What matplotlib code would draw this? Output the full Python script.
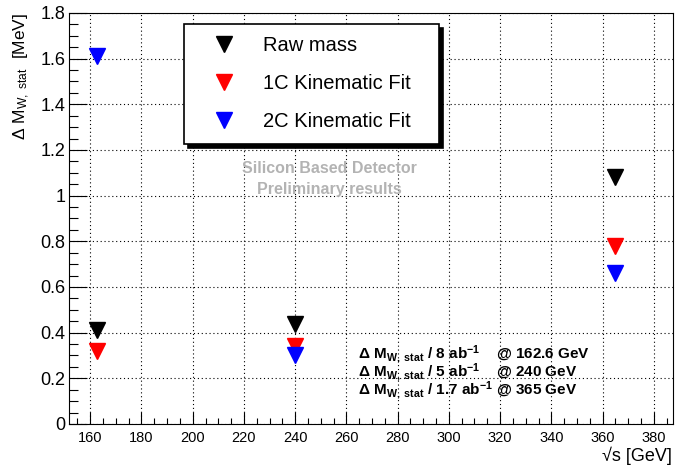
import matplotlib
matplotlib.use("Agg")
import matplotlib.pyplot as plt
from matplotlib.ticker import MultipleLocator

plt.rcParams['font.family'] = ['Liberation Sans', 'DejaVu Sans']
plt.rcParams['mathtext.fontset'] = 'custom'
plt.rcParams['mathtext.rm'] = 'Liberation Sans'
plt.rcParams['mathtext.it'] = 'Liberation Sans:italic'
plt.rcParams['mathtext.bf'] = 'Liberation Sans:bold'

# sqrt(s) [GeV]
energies = [162.6, 240, 365]
raw_mass = [0.41, 0.44, 1.08]
fit_1c = [0.32, 0.34, 0.78]
fit_2c = [1.61, 0.30, 0.66]

series = [
    ("Raw mass", raw_mass, "black"),
    ("1C Kinematic Fit", fit_1c, "red"),
    ("2C Kinematic Fit", fit_2c, "blue"),
]

lumi_lines = [
    r"Δ M$_{\mathbf{W,\ stat}}$ / 8 ab$^{\mathbf{-1}}$    @ 162.6 GeV",
    r"Δ M$_{\mathbf{W,\ stat}}$ / 5 ab$^{\mathbf{-1}}$    @ 240 GeV",
    r"Δ M$_{\mathbf{W,\ stat}}$ / 1.7 ab$^{\mathbf{-1}}$ @ 365 GeV",
]

fig = plt.figure(figsize=(6.76, 4.65), dpi=100)
ax = fig.add_axes([0.1028, 0.0882, 0.8928, 0.8839])

for name, vals, col in series:
    ax.plot(energies, vals, linestyle='none', marker='v', markersize=12,
            color=col, label=name)

ax.set_xlim(151.9, 387.5)
ax.set_ylim(0, 1.8)
ax.xaxis.set_major_locator(MultipleLocator(20))
ax.xaxis.set_minor_locator(MultipleLocator(5))
ax.yaxis.set_major_locator(MultipleLocator(0.2))
ax.yaxis.set_minor_locator(MultipleLocator(0.05))
ax.yaxis.set_major_formatter(lambda v, p: f"{v:g}")

ax.tick_params(axis='both', which='both', direction='in', top=False, right=False,
               width=0.8, colors='black')
ax.tick_params(axis='y', which='major', length=13, labelsize=13, pad=3)
ax.tick_params(axis='y', which='minor', length=6.5)
ax.tick_params(axis='x', which='major', length=9, labelsize=10.5, pad=5)
ax.tick_params(axis='x', which='minor', length=4.5)
for s in ax.spines.values():
    s.set_linewidth(0.8)

ax.grid(True, which='major', color='black', linestyle=(0, (1, 2.5)), linewidth=0.8)
ax.set_axisbelow(True)

ax.set_ylabel(r"Δ M$_{\mathrm{W,\ stat}}$  [MeV]", fontsize=12.5, loc='top')
ax.yaxis.set_label_coords(-0.062, 1.0)
fig.text(672 / 676, 1 - 456 / 465, "√s [GeV]", fontsize=13,
         ha='right', va='center')

leg = ax.legend(loc='upper left', bbox_to_anchor=(0.190, 0.687, 0.422, 0.287),
                mode='expand', fontsize=14.5, frameon=True, fancybox=False,
                shadow={'ox': 3, 'oy': -3, 'color': 'black', 'alpha': 1.0},
                borderpad=0.62, labelspacing=0.95, handlelength=2.75,
                handletextpad=0.55, borderaxespad=0, numpoints=1)
leg.get_frame().set_edgecolor('black')
leg.get_frame().set_linewidth(1.2)

ax.text(0.431, 0.622, "Silicon Based Detector", transform=ax.transAxes,
        ha='center', va='center', fontsize=11.5, fontweight='bold', color='#b3b3b3')
ax.text(0.431, 0.571, "Preliminary results", transform=ax.transAxes,
        ha='center', va='center', fontsize=11.5, fontweight='bold', color='#b3b3b3')

for i, line in enumerate(lumi_lines):
    ax.text(0.478, 0.170 - i * 0.044, line, transform=ax.transAxes,
            ha='left', va='center', fontsize=11, fontweight='bold')

fig.savefig("out.png", dpi=100)
